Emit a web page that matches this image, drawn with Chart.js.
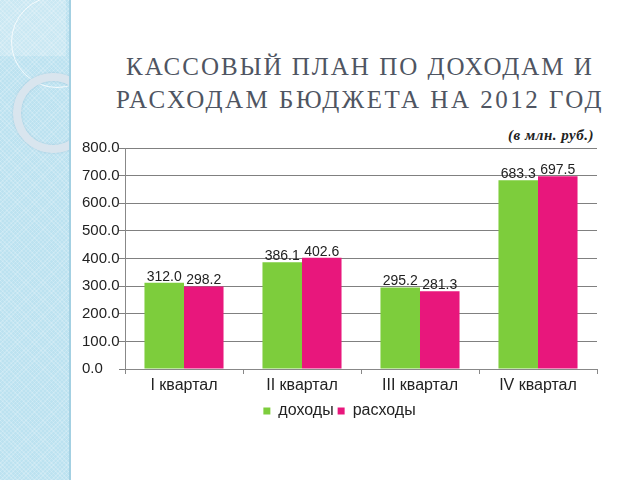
<!DOCTYPE html>
<html>
<head>
<meta charset="utf-8">
<script src="https://cdn.jsdelivr.net/npm/chart.js@4.4.0/dist/chart.umd.min.js"></script>
<style>
  html, body { margin: 0; padding: 0; background: #fff; }
  #page { position: relative; width: 640px; height: 480px; overflow: hidden; background: #fff; }
  #side {
    position: absolute; left: 0; top: 0; width: 69px; height: 480px; overflow: hidden;
    background-color: #bce2f0;
    background-image: repeating-linear-gradient(45deg, rgba(255,255,255,0.18) 0 1px, transparent 1px 3px),
                      repeating-linear-gradient(-45deg, rgba(255,255,255,0.18) 0 1px, transparent 1px 3px);
    border-right: 2px solid #a3d0e2;
  }
  #corner { position: absolute; left: 0; top: 0; width: 66px; height: 56px; background: rgba(255,255,255,0.22); }
  #ring1 { position: absolute; left: 11px; top: -4px; width: 90px; height: 90px; border-radius: 50%; border: 1px solid rgba(255,255,255,0.8); }
  #ring2 { position: absolute; left: 13px; top: 73px; width: 64px; height: 64px; border-radius: 50%;
           border: 8px solid #d9e5ee; box-shadow: 0 0 2px rgba(120,160,190,0.5), inset 0 0 2px rgba(120,160,190,0.5); }
  #title {
    position: absolute; left: 95px; width: 530px; top: 50px; text-align: center;
    font-family: "Liberation Serif", "DejaVu Serif", serif; font-size: 25px; line-height: 33px;
    color: #4f5562; letter-spacing: 2px;
  }
  #title span { letter-spacing: 2.5px; }
  #unit {
    position: absolute; left: 508px; top: 127px; letter-spacing: 0.5px;
    font-family: "Liberation Serif", serif; font-style: italic; font-weight: bold; font-size: 15px; color: #222;
  }
  #wrap { position: absolute; left: 70px; top: 120px; width: 550px; height: 320px; }
</style>
</head>
<body>
<div id="page">
  <div id="side"><div id="corner"></div><div id="ring1"></div><div id="ring2"></div></div>
  <div id="title">КАССОВЫЙ ПЛАН ПО ДОХОДАМ И<br><span>РАСХОДАМ БЮДЖЕТА НА 2012 ГОД</span></div>
  <div id="unit">(в млн. руб.)</div>
  <div id="wrap"><canvas id="grafico"></canvas></div>
</div>
<script>
const quarters = ['I квартал', 'II квартал', 'III квартал', 'IV квартал']
const income = [312.0, 386.1, 295.2, 683.3]
const expenses = [298.2, 402.6, 281.3, 697.5]
const seriesNames = ['доходы', 'расходы']

const sans = '"Liberation Sans", Arial, sans-serif'

// подписи значений над столбцами
const valueLabels = {
  id: 'valueLabels',
  afterDatasetsDraw(chart) {
    const ctx = chart.ctx
    ctx.save()
    ctx.font = '14px ' + sans
    ctx.fillStyle = '#222'
    ctx.textAlign = 'center'
    ctx.textBaseline = 'bottom'
    chart.data.datasets.forEach((ds, i) => {
      chart.getDatasetMeta(i).data.forEach((bar, j) => {
        ctx.fillText(ds.data[j].toFixed(1), bar.x, bar.y + 1)
      })
    })
    ctx.restore()
  }
}

const ctx = document.getElementById('grafico').getContext('2d')
new Chart(ctx, {
  type: 'bar',
  data: {
    labels: quarters,
    datasets: [
      { label: seriesNames[0], data: income, backgroundColor: '#7dcd3c', borderWidth: 0 },
      { label: seriesNames[1], data: expenses, backgroundColor: '#e8177c', borderWidth: 0 }
    ]
  },
  options: {
    responsive: true,
    maintainAspectRatio: false,
    animation: false,
    categoryPercentage: 0.67,
    barPercentage: 1.0,
    layout: { padding: { left: 12, right: 23, top: 28, bottom: 11 } },
    plugins: {
      tooltip: { enabled: false },
      legend: {
        position: 'bottom',
        labels: {
          boxWidth: 7, boxHeight: 7, padding: 4, color: '#222',
          font: { family: sans, size: 16 }
        }
      }
    },
    scales: {
      y: {
        min: 0, max: 800,
        afterFit(scale) { scale.width = 43 },
        border: { color: '#888' },
        grid: { color: '#808080', tickLength: 6 },
        ticks: {
          stepSize: 100, crossAlign: 'far', color: '#222', padding: 4,
          font: { family: sans, size: 15 },
          callback: v => v.toFixed(1)
        }
      },
      x: {
        afterFit(scale) { scale.height = 30 },
        border: { color: '#888' },
        grid: { drawOnChartArea: false, offset: true, color: '#888', tickLength: 5 },
        ticks: {
          color: '#222', padding: 2,
          font: { family: sans, size: 16 }
        }
      }
    }
  },
  plugins: [valueLabels]
})
</script>
</body>
</html>
